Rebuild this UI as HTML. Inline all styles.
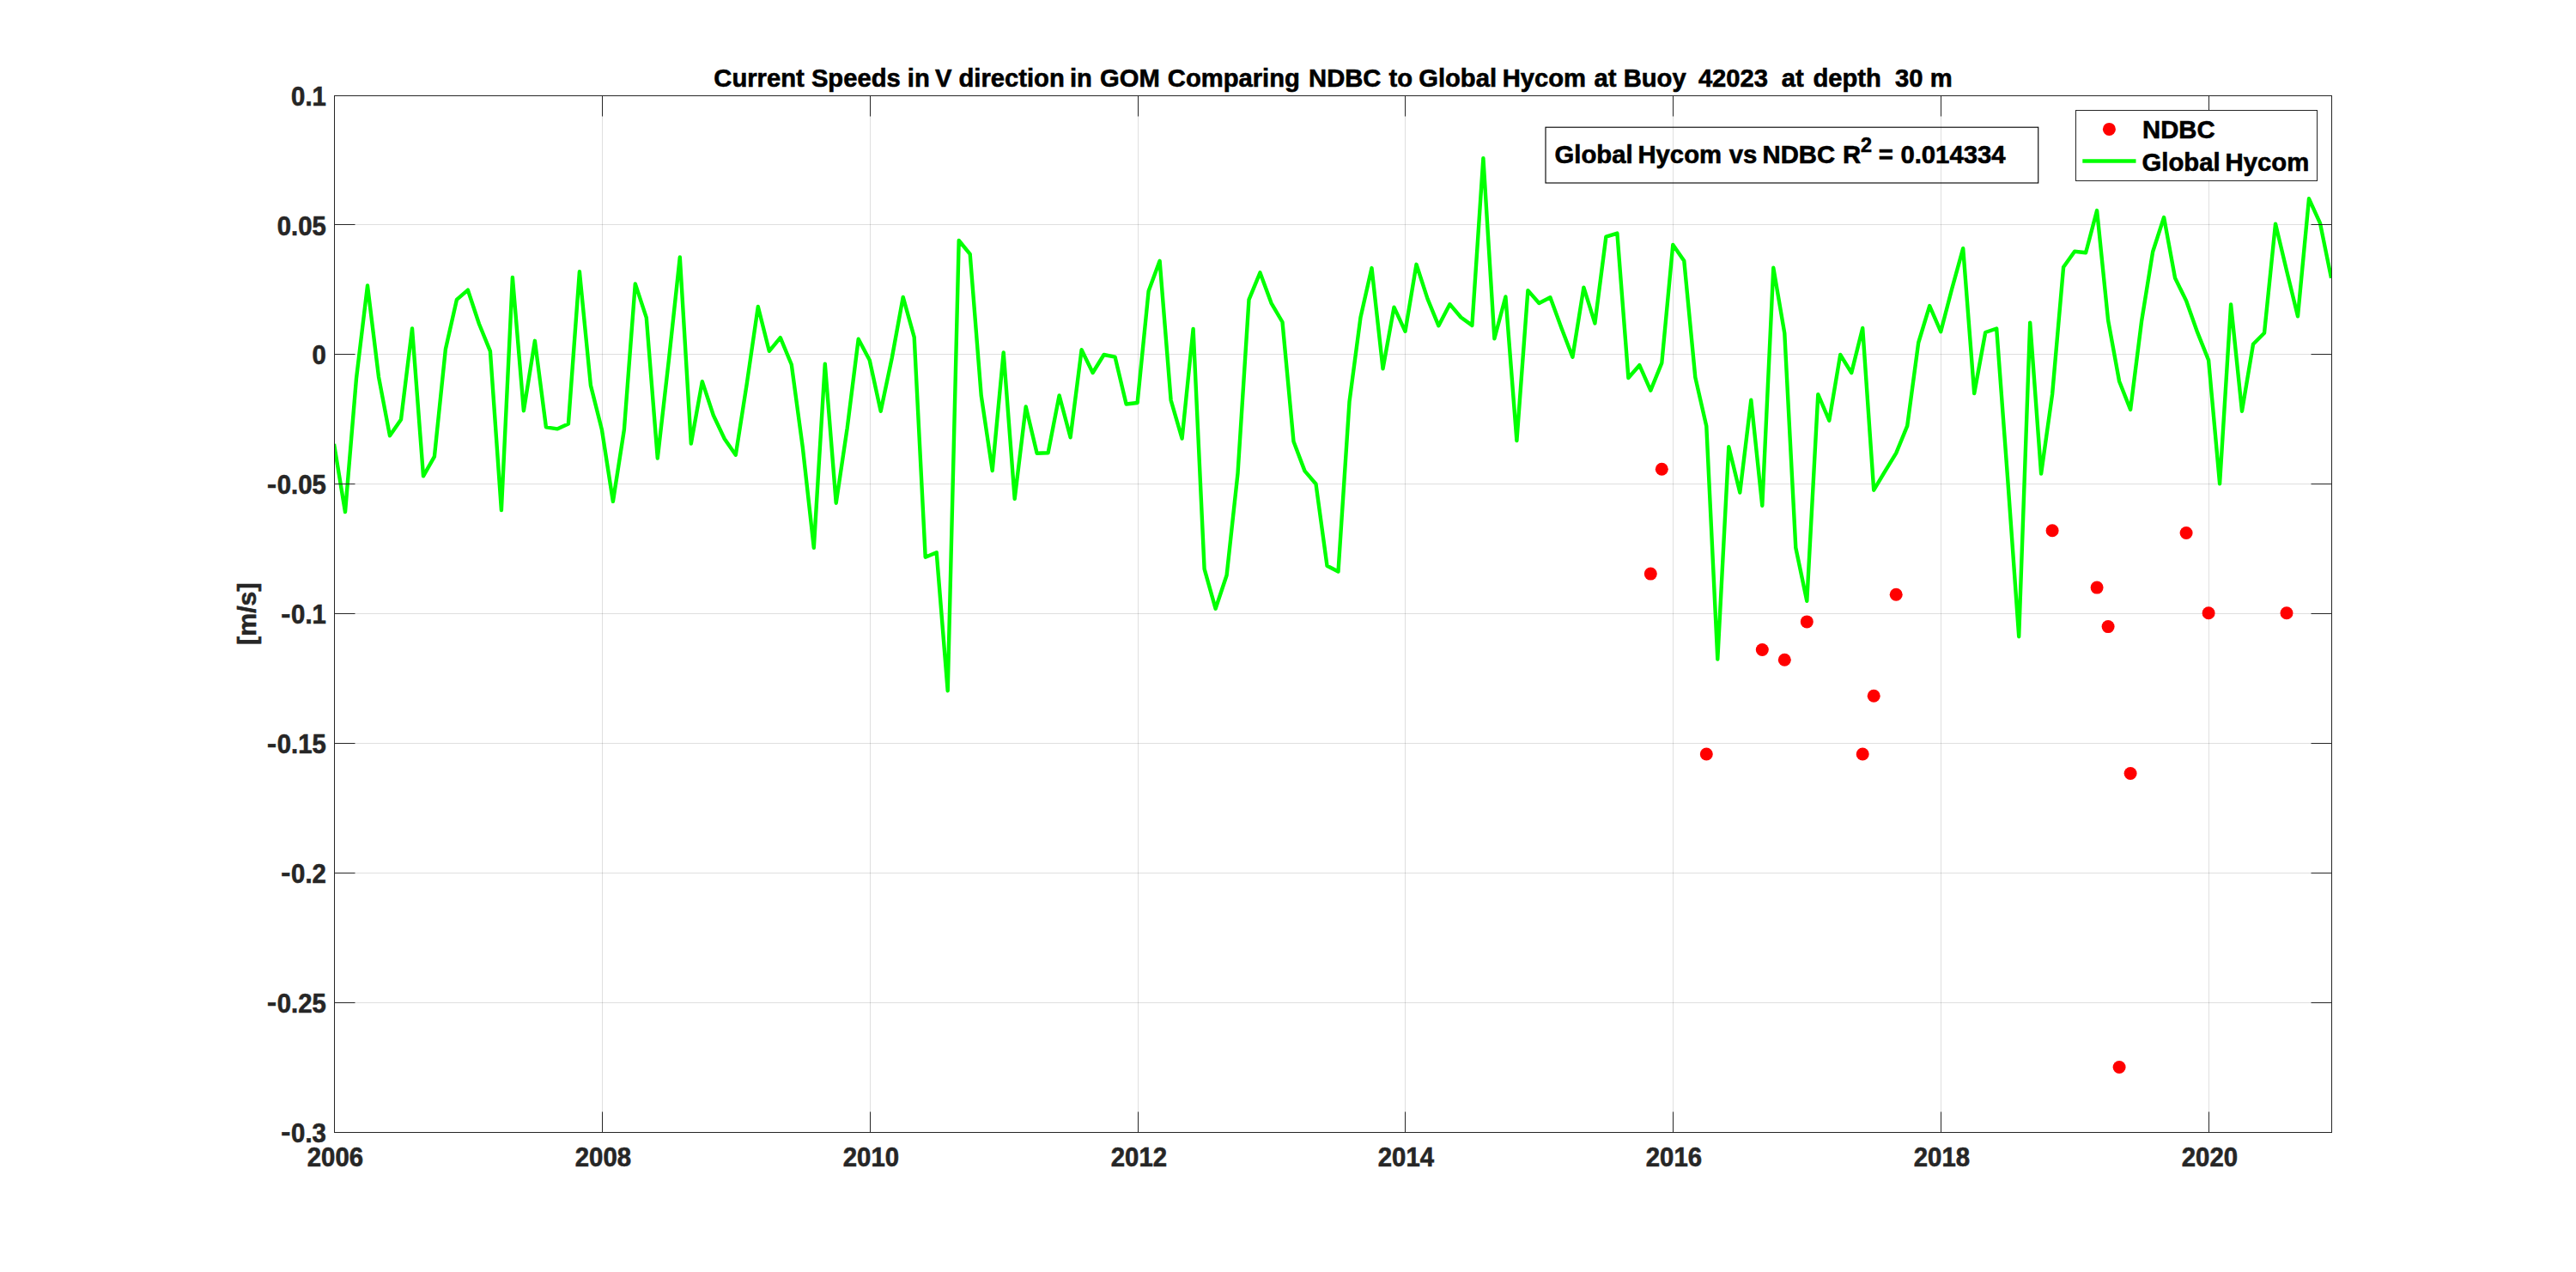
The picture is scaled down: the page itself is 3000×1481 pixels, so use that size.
<!DOCTYPE html>
<html lang="en"><head><meta charset="utf-8"><title>Current Speeds in V direction in GOM</title>
<style>html,body{margin:0;padding:0;background:#fff}body{width:3000px;height:1481px;overflow:hidden}svg{display:block}text{font-family:"Liberation Sans",Arial,Helvetica,sans-serif;font-weight:bold;stroke-width:0.6px}</style></head><body>
<svg width="3000" height="1481" viewBox="0 0 3000 1481">
<rect width="3000" height="1481" fill="#fff"/>
<defs><clipPath id="ax"><rect x="389.5" y="111.5" width="2326.0" height="1207.0"/></clipPath></defs>
<path d="M701.5 111.5V1318.5M1013.5 111.5V1318.5M1325.5 111.5V1318.5M1636.5 111.5V1318.5M1948.5 111.5V1318.5M2260.5 111.5V1318.5M2572.5 111.5V1318.5" stroke="#262626" stroke-opacity="0.15" stroke-width="1" fill="none"/>
<path d="M389.5 261.5H2715.5M389.5 412.5H2715.5M389.5 563.5H2715.5M389.5 714.5H2715.5M389.5 865.5H2715.5M389.5 1016.5H2715.5M389.5 1167.5H2715.5" stroke="#262626" stroke-opacity="0.15" stroke-width="1" fill="none"/>
<polyline clip-path="url(#ax)" points="389.0,516.9 402.0,596.1 415.0,440.5 428.0,332.4 441.0,438.8 454.0,507.3 467.0,488.4 480.0,382.5 493.0,554.3 505.9,531.7 518.9,406.5 531.9,348.9 544.9,337.7 557.9,377.0 570.9,408.8 583.9,594.1 596.9,322.9 609.9,478.2 622.9,396.8 635.9,497.3 648.9,499.4 661.9,493.5 674.9,316.3 687.9,448.6 700.9,500.2 713.9,583.9 726.9,500.2 739.8,330.4 752.8,369.9 765.8,533.6 778.8,420.0 791.8,299.4 804.8,516.5 817.8,444.1 830.8,483.5 843.8,511.0 856.8,529.7 869.8,446.5 882.8,357.0 895.8,408.8 908.8,393.1 921.8,424.5 934.8,520.8 947.8,637.8 960.8,423.7 973.7,585.7 986.7,498.3 999.7,394.7 1012.7,419.2 1025.7,478.8 1038.7,417.0 1051.7,345.9 1064.7,392.7 1077.7,648.7 1090.7,643.2 1103.7,804.2 1116.7,280.0 1129.7,295.8 1142.7,460.4 1155.7,548.0 1168.7,410.5 1181.7,580.8 1194.7,473.5 1207.6,527.7 1220.6,527.3 1233.6,460.4 1246.6,509.3 1259.6,407.2 1272.6,434.0 1285.6,413.0 1298.6,415.7 1311.6,470.5 1324.6,469.0 1337.6,339.1 1350.6,303.7 1363.6,465.8 1376.6,510.6 1389.6,382.9 1402.6,662.4 1415.6,708.7 1428.6,669.8 1441.5,551.3 1454.5,348.9 1467.5,317.4 1480.5,352.8 1493.5,375.0 1506.5,514.0 1519.5,548.4 1532.5,563.5 1545.5,658.8 1558.5,665.5 1571.5,467.8 1584.5,369.5 1597.5,312.1 1610.5,429.3 1623.5,357.7 1636.5,385.8 1649.5,307.8 1662.5,347.9 1675.4,379.3 1688.4,354.2 1701.4,369.5 1714.4,378.9 1727.4,184.2 1740.4,394.3 1753.4,345.5 1766.4,513.0 1779.4,338.1 1792.4,353.0 1805.4,346.3 1818.4,381.7 1831.4,415.8 1844.4,334.7 1857.4,376.4 1870.4,275.6 1883.4,271.6 1896.4,440.0 1909.3,425.2 1922.3,454.6 1935.3,422.6 1948.3,284.9 1961.3,303.7 1974.3,439.3 1987.3,496.3 2000.3,767.6 2013.3,520.2 2026.3,573.6 2039.3,465.7 2052.3,588.7 2065.3,311.8 2078.3,388.2 2091.3,637.8 2104.3,699.8 2117.3,459.2 2130.3,489.7 2143.2,413.0 2156.2,434.1 2169.2,382.0 2182.2,570.7 2195.2,548.9 2208.2,527.7 2221.2,495.9 2234.2,399.0 2247.2,356.1 2260.2,386.2 2273.2,336.3 2286.2,289.2 2299.2,458.0 2312.2,387.0 2325.2,382.5 2338.2,558.0 2351.2,741.2 2364.2,375.7 2377.1,551.6 2390.1,459.0 2403.1,311.0 2416.1,292.7 2429.1,294.3 2442.1,245.1 2455.1,372.9 2468.1,444.0 2481.1,476.9 2494.1,373.9 2507.1,293.3 2520.1,253.0 2533.1,323.8 2546.1,350.3 2559.1,386.9 2572.1,419.4 2585.1,563.2 2598.1,354.5 2611.0,478.7 2624.0,400.8 2637.0,387.7 2650.0,260.6 2663.0,315.0 2676.0,368.3 2689.0,231.3 2702.0,259.9 2715.0,323.8" fill="none" stroke="#00ff00" stroke-width="4.4" stroke-linejoin="round" stroke-linecap="butt"/>
<circle cx="1922.3" cy="668.1" r="7.5" fill="#ff0000"/>
<circle cx="1935.3" cy="546.3" r="7.5" fill="#ff0000"/>
<circle cx="1987.3" cy="878.0" r="7.5" fill="#ff0000"/>
<circle cx="2052.3" cy="756.5" r="7.5" fill="#ff0000"/>
<circle cx="2078.3" cy="768.2" r="7.5" fill="#ff0000"/>
<circle cx="2104.3" cy="723.9" r="7.5" fill="#ff0000"/>
<circle cx="2169.2" cy="878.0" r="7.5" fill="#ff0000"/>
<circle cx="2182.2" cy="810.2" r="7.5" fill="#ff0000"/>
<circle cx="2208.2" cy="692.2" r="7.5" fill="#ff0000"/>
<circle cx="2390.1" cy="617.8" r="7.5" fill="#ff0000"/>
<circle cx="2442.1" cy="684.1" r="7.5" fill="#ff0000"/>
<circle cx="2455.1" cy="729.6" r="7.5" fill="#ff0000"/>
<circle cx="2468.1" cy="1242.5" r="7.5" fill="#ff0000"/>
<circle cx="2481.1" cy="900.5" r="7.5" fill="#ff0000"/>
<circle cx="2546.1" cy="620.5" r="7.5" fill="#ff0000"/>
<circle cx="2572.1" cy="713.8" r="7.5" fill="#ff0000"/>
<circle cx="2663.0" cy="713.8" r="7.5" fill="#ff0000"/>
<path d="M389.5 1318.5v-24M389.5 111.5v24M701.5 1318.5v-24M701.5 111.5v24M1013.5 1318.5v-24M1013.5 111.5v24M1325.5 1318.5v-24M1325.5 111.5v24M1636.5 1318.5v-24M1636.5 111.5v24M1948.5 1318.5v-24M1948.5 111.5v24M2260.5 1318.5v-24M2260.5 111.5v24M2572.5 1318.5v-24M2572.5 111.5v24M389.5 111.5h24M2715.5 111.5h-24M389.5 261.5h24M2715.5 261.5h-24M389.5 412.5h24M2715.5 412.5h-24M389.5 563.5h24M2715.5 563.5h-24M389.5 714.5h24M2715.5 714.5h-24M389.5 865.5h24M2715.5 865.5h-24M389.5 1016.5h24M2715.5 1016.5h-24M389.5 1167.5h24M2715.5 1167.5h-24M389.5 1318.5h24M2715.5 1318.5h-24" stroke="#262626" stroke-width="1" fill="none"/>
<rect x="389.5" y="111.5" width="2326.0" height="1207.0" fill="none" stroke="#262626" stroke-width="1"/>
<text transform="translate(390.4,1357.5) scale(1,1.04)" font-size="29.3" fill="#262626" stroke="#262626" text-anchor="middle">2006</text>
<text transform="translate(702.4,1357.5) scale(1,1.04)" font-size="29.3" fill="#262626" stroke="#262626" text-anchor="middle">2008</text>
<text transform="translate(1014.4,1357.5) scale(1,1.04)" font-size="29.3" fill="#262626" stroke="#262626" text-anchor="middle">2010</text>
<text transform="translate(1326.4,1357.5) scale(1,1.04)" font-size="29.3" fill="#262626" stroke="#262626" text-anchor="middle">2012</text>
<text transform="translate(1637.4,1357.5) scale(1,1.04)" font-size="29.3" fill="#262626" stroke="#262626" text-anchor="middle">2014</text>
<text transform="translate(1949.4,1357.5) scale(1,1.04)" font-size="29.3" fill="#262626" stroke="#262626" text-anchor="middle">2016</text>
<text transform="translate(2261.4,1357.5) scale(1,1.04)" font-size="29.3" fill="#262626" stroke="#262626" text-anchor="middle">2018</text>
<text transform="translate(2573.4,1357.5) scale(1,1.04)" font-size="29.3" fill="#262626" stroke="#262626" text-anchor="middle">2020</text>
<text transform="translate(0,122.6) scale(1,1.04)" font-size="29.3" fill="#262626" stroke="#262626" x="339.1">0.1</text>
<text transform="translate(0,273.5) scale(1,1.04)" font-size="29.3" fill="#262626" stroke="#262626" x="322.8">0.05</text>
<text transform="translate(0,424.4) scale(1,1.04)" font-size="29.3" fill="#262626" stroke="#262626" x="363.5">0</text>
<text transform="translate(0,575.2) scale(1,1.04)" font-size="29.3" fill="#262626" stroke="#262626"><tspan x="310.9" dy="-1.35" textLength="11.1" lengthAdjust="spacingAndGlyphs">-</tspan><tspan x="322.8" dy="1.35">0.05</tspan></text>
<text transform="translate(0,726.1) scale(1,1.04)" font-size="29.3" fill="#262626" stroke="#262626"><tspan x="327.2" dy="-1.35" textLength="11.1" lengthAdjust="spacingAndGlyphs">-</tspan><tspan x="339.1" dy="1.35">0.1</tspan></text>
<text transform="translate(0,877.0) scale(1,1.04)" font-size="29.3" fill="#262626" stroke="#262626"><tspan x="310.9" dy="-1.35" textLength="11.1" lengthAdjust="spacingAndGlyphs">-</tspan><tspan x="322.8" dy="1.35">0.15</tspan></text>
<text transform="translate(0,1027.9) scale(1,1.04)" font-size="29.3" fill="#262626" stroke="#262626"><tspan x="327.2" dy="-1.35" textLength="11.1" lengthAdjust="spacingAndGlyphs">-</tspan><tspan x="339.1" dy="1.35">0.2</tspan></text>
<text transform="translate(0,1178.7) scale(1,1.04)" font-size="29.3" fill="#262626" stroke="#262626"><tspan x="310.9" dy="-1.35" textLength="11.1" lengthAdjust="spacingAndGlyphs">-</tspan><tspan x="322.8" dy="1.35">0.25</tspan></text>
<text transform="translate(0,1329.6) scale(1,1.04)" font-size="29.3" fill="#262626" stroke="#262626"><tspan x="327.2" dy="-1.35" textLength="11.1" lengthAdjust="spacingAndGlyphs">-</tspan><tspan x="339.1" dy="1.35">0.3</tspan></text>
<text transform="translate(298.3,714.7) rotate(-90) scale(1.035,1)" font-size="29.3" fill="#262626" stroke="#262626" text-anchor="middle">[m/s]</text>
<text y="101" font-size="29.2" fill="#000" stroke="#000"><tspan x="831.3">Current</tspan> <tspan x="944.9">Speeds</tspan> <tspan x="1056.8">in</tspan> <tspan x="1088.9">V</tspan> <tspan x="1116.5">direction</tspan> <tspan x="1245.9">in</tspan> <tspan x="1281.0">GOM</tspan> <tspan x="1359.8">Comparing</tspan> <tspan x="1524.1">NDBC</tspan> <tspan x="1617.5">to</tspan> <tspan x="1652.2">Global</tspan> <tspan x="1749.7">Hycom</tspan> <tspan x="1856.6">at</tspan> <tspan x="1890.7">Buoy</tspan> <tspan x="1977.9">42023</tspan> <tspan x="2074.7">at</tspan> <tspan x="2111.4">depth</tspan> <tspan x="2207.1">30</tspan> <tspan x="2247.7">m</tspan></text>
<rect x="1800" y="148.2" width="573.75" height="64.8" fill="none" stroke="#000" stroke-width="1.12"/>
<text y="190.2" font-size="29.3" fill="#000" stroke="#000"><tspan x="1810.5">Global</tspan> <tspan x="1907.4">Hycom</tspan> <tspan x="2013.7">vs</tspan> <tspan x="2052.5">NDBC</tspan> <tspan x="2146">R</tspan><tspan x="2167" dy="-13.2" font-size="23.3">2</tspan><tspan x="2187.8" dy="13.2">=</tspan> <tspan x="2213.4">0.014334</tspan></text>
<rect x="2417.5" y="128.5" width="281" height="82" fill="#fff" stroke="#262626" stroke-width="1"/>
<circle cx="2456.4" cy="150.4" r="7.5" fill="#ff0000"/>
<text x="2495" y="160.9" font-size="29.3" fill="#000" stroke="#000">NDBC</text>
<path d="M2425.3 187.45H2487.5" stroke="#00ff00" stroke-width="4.4"/>
<text x="2494.5" y="198.6" font-size="29.3" fill="#000" stroke="#000">Global <tspan x="2591.6">Hycom</tspan></text>
</svg></body></html>
